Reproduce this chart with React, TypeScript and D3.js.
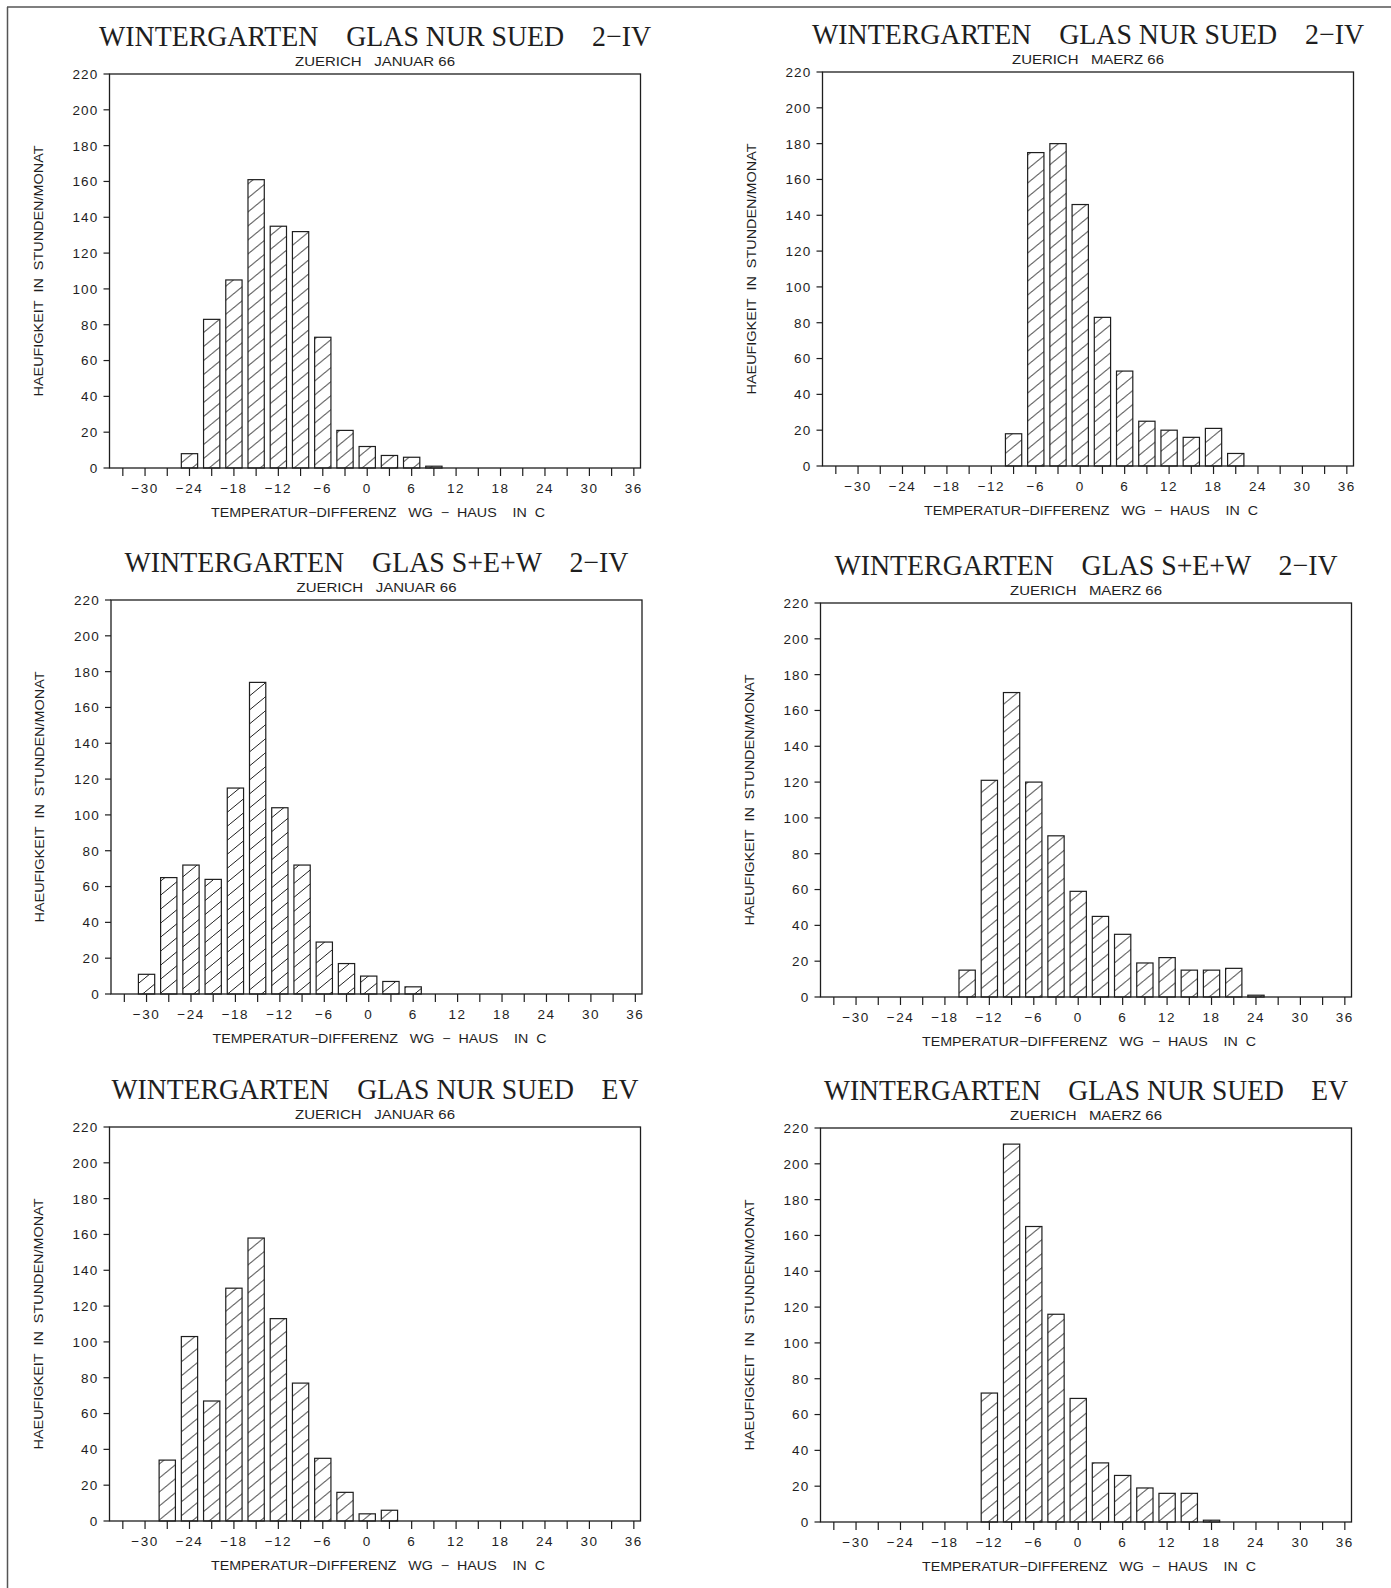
import * as d3 from 'd3';

// bin centres in degrees C (3-degree classes)
const bins = [-33, -30, -27, -24, -21, -18, -15, -12, -9, -6, -3, 0, 3, 6, 9, 12, 15, 18, 21, 24, 27, 30, 33, 36];
const xLabelTicks = [-30, -24, -18, -12, -6, 0, 6, 12, 18, 24, 30, 36];
const yTicks = [0, 20, 40, 60, 80, 100, 120, 140, 160, 180, 200, 220];

// hours per month per bin
const janSuedIV = [0, 0, 0, 8, 83, 105, 161, 135, 132, 73, 21, 12, 7, 6, 1, 0, 0, 0, 0, 0, 0, 0, 0, 0];
const marSuedIV = [0, 0, 0, 0, 0, 0, 0, 0, 18, 175, 180, 146, 83, 53, 25, 20, 16, 21, 7, 0, 0, 0, 0, 0];
const janSEWIV = [0, 11, 65, 72, 64, 115, 174, 104, 72, 29, 17, 10, 7, 4, 0, 0, 0, 0, 0, 0, 0, 0, 0, 0];
const marSEWIV = [0, 0, 0, 0, 0, 0, 15, 121, 170, 120, 90, 59, 45, 35, 19, 22, 15, 15, 16, 1, 0, 0, 0, 0];
const janSuedEV = [0, 0, 34, 103, 67, 130, 158, 113, 77, 35, 16, 4, 6, 0, 0, 0, 0, 0, 0, 0, 0, 0, 0, 0];
const marSuedEV = [0, 0, 0, 0, 0, 0, 0, 72, 211, 165, 116, 69, 33, 26, 19, 16, 16, 1, 0, 0, 0, 0, 0, 0];

const titleSuedIV = 'WINTERGARTEN    GLAS NUR SUED    2\u2212IV';
const titleSEWIV = 'WINTERGARTEN    GLAS S+E+W    2\u2212IV';
const titleSuedEV = 'WINTERGARTEN    GLAS NUR SUED    EV';
const subJan = 'ZUERICH   JANUAR 66';
const subMar = 'ZUERICH   MAERZ 66';
const yTitle = 'HAEUFIGKEIT  IN  STUNDEN/MONAT';
const xTitle = 'TEMPERATUR\u2212DIFFERENZ   WG  \u2212  HAUS    IN  C';

const W = 1391;
const H = 1588;
const plotW = 531;
const plotH = 394;
const ink = '#1e1e1e';
const sans = '"Liberation Sans", Arial, sans-serif';
const serif = '"Liberation Serif", "DejaVu Serif", serif';

const panels = [
  { title: titleSuedIV, titleLen: 552, sub: subJan, subLen: 160, values: janSuedIV, x: 109.5, y: 74 },
  { title: titleSuedIV, titleLen: 552, sub: subMar, subLen: 152, values: marSuedIV, x: 822.5, y: 72 },
  { title: titleSEWIV, titleLen: 504, sub: subJan, subLen: 160, values: janSEWIV, x: 111, y: 600 },
  { title: titleSEWIV, titleLen: 503, sub: subMar, subLen: 152, values: marSEWIV, x: 820.5, y: 603 },
  { title: titleSuedEV, titleLen: 527, sub: subJan, subLen: 160, values: janSuedEV, x: 109.5, y: 1127 },
  { title: titleSuedEV, titleLen: 524, sub: subMar, subLen: 152, values: marSuedEV, x: 820.5, y: 1128 },
];

const x = d3.scaleLinear().domain([-34.8, 36.9]).range([0, plotW]);
const y = d3.scaleLinear().domain([0, 220]).range([plotH, 0]);
const halfBar = 1.1;

const fmt = (v: number) => (v < 0 ? `\u2212${-v}` : `${v}`);

function Panel({ p }: { p: (typeof panels)[number] }) {
  return (
    <g transform={`translate(${p.x},${p.y})`}>
      <text
        x={plotW / 2}
        y={-28.5}
        textAnchor="middle"
        fontFamily={serif}
        fontSize={29}
        fill={ink}
        textLength={p.titleLen}
        lengthAdjust="spacingAndGlyphs"
        style={{ whiteSpace: 'pre' }}
      >
        {p.title}
      </text>
      <text
        x={plotW / 2}
        y={-8}
        textAnchor="middle"
        fontFamily={sans}
        fontSize={13}
        fill={ink}
        textLength={p.subLen}
        lengthAdjust="spacingAndGlyphs"
        style={{ whiteSpace: 'pre' }}
      >
        {p.sub}
      </text>

      {/* bars */}
      {p.values.map((v, i) =>
        v > 0 ? (
          <rect
            key={i}
            x={x(bins[i] - halfBar)}
            y={y(v)}
            width={x(bins[i] + halfBar) - x(bins[i] - halfBar)}
            height={y(0) - y(v)}
            fill="url(#hatch)"
            stroke={ink}
            strokeWidth={1.2}
          />
        ) : null
      )}

      <rect x={0} y={0} width={plotW} height={plotH} fill="none" stroke={ink} strokeWidth={1.3} />

      {/* y axis */}
      {yTicks.map((t) => (
        <g key={t} transform={`translate(0,${y(t)})`}>
          <line x1={-6} x2={0} stroke={ink} strokeWidth={1.2} />
          <text
            x={-11}
            dy="0.36em"
            textAnchor="end"
            fontFamily={sans}
            fontSize={13.5}
            letterSpacing={1.2}
            fill={ink}
          >
            {t}
          </text>
        </g>
      ))}

      {/* x axis */}
      {bins.map((t) => (
        <line key={t} x1={x(t)} x2={x(t)} y1={plotH} y2={plotH + 8} stroke={ink} strokeWidth={1.2} />
      ))}
      {xLabelTicks.map((t) => (
        <text
          key={t}
          x={x(t)}
          y={plotH + 25}
          textAnchor="middle"
          fontFamily={sans}
          fontSize={13.5}
          letterSpacing={1.5}
          fill={ink}
        >
          {fmt(t)}
        </text>
      ))}

      <text
        x={plotW / 2 + 3}
        y={plotH + 49}
        textAnchor="middle"
        fontFamily={sans}
        fontSize={12.5}
        fill={ink}
        textLength={334}
        lengthAdjust="spacingAndGlyphs"
        style={{ whiteSpace: 'pre' }}
      >
        {xTitle}
      </text>
      <text
        transform={`translate(-71,${plotH / 2}) rotate(-90)`}
        textAnchor="middle"
        dominantBaseline="central"
        fontFamily={sans}
        fontSize={12.5}
        fill={ink}
        textLength={251}
        lengthAdjust="spacingAndGlyphs"
        style={{ whiteSpace: 'pre' }}
      >
        {yTitle}
      </text>
    </g>
  );
}

export default function App() {
  return (
    <svg
      width={W}
      height={H}
      viewBox={`0 0 ${W} ${H}`}
      style={{ position: 'absolute', left: 0, top: 0, background: '#fff' }}
    >
      <defs>
        <pattern id="hatch" patternUnits="userSpaceOnUse" width={17} height={14}>
          <path d="M0,14 L17,0" stroke={ink} strokeWidth={1} />
        </pattern>
      </defs>
      <rect width={W} height={H} fill="#fff" />
      {/* page frame */}
      <line x1={7} x2={W} y1={7} y2={7} stroke="#555" strokeWidth={1.5} />
      <line x1={7.5} x2={7.5} y1={7} y2={H} stroke="#555" strokeWidth={1.5} />
      {panels.map((p, i) => (
        <Panel key={i} p={p} />
      ))}
    </svg>
  );
}
